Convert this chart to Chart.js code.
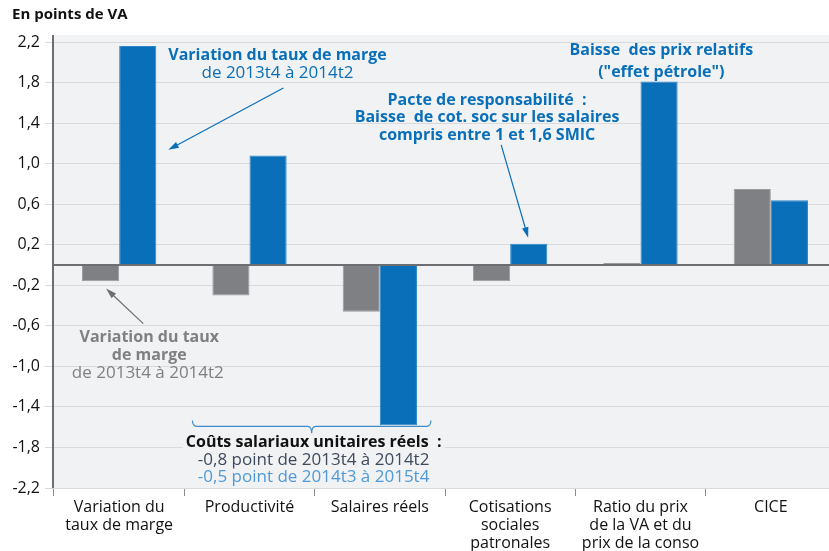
<!DOCTYPE html>
<html>
<head>
<meta charset="utf-8">
<script src="https://cdn.jsdelivr.net/npm/chart.js@4.4.1/dist/chart.umd.min.js"></script>
<style>
  html, body { margin: 0; padding: 0; background: #fff; overflow: hidden; }
  #wrap { width: 836px; height: 551px; position: relative; }
</style>
</head>
<body>
<div id="wrap"><canvas id="graf" width="836" height="551"></canvas></div>
<script>
// données (en points de VA)
var categories = [
    ['Variation du', 'taux de marge'],
    'Productivité',
    'Salaires réels',
    ['Cotisations', 'sociales', 'patronales'],
    ['Ratio du prix', 'de la VA et du', 'prix de la conso'],
    'CICE'
];
var serieGris = [-0.16, -0.30, -0.46, -0.16, 0.02, 0.75];
var serieBleu = [2.16, 1.08, -1.58, 0.21, 1.81, 0.64];
var yMin = -2.2, yMax = 2.2, yPas = 0.4;

var BLEU = '#0a6fb9';
var GRIS = '#7f8083';
var FOND = '#f1f2f4';
var POLICE = '"Open Sans", sans-serif';

// textes et flèches d'annotation, placés en coordonnées de données (catégorie, valeur)
var annotations = {
    draw: function (chart) {
        var c = chart.ctx, x = chart.scales.x, y = chart.scales.y;
        var largeur = (x.right - x.left) / categories.length;
        function px(u) { return x.getPixelForValue(0) + u * largeur; }
        function py(v) { return y.getPixelForValue(v); }

        function texte(str, u, v, font, color, bg) {
            c.font = font;
            c.textAlign = 'center';
            c.textBaseline = 'middle';
            if (bg) {
                var w = c.measureText(str).width;
                c.fillStyle = FOND;
                c.fillRect(px(u) - w / 2 - 3, py(v) - 9, w + 6, 18);
            }
            c.fillStyle = color;
            c.fillText(str, px(u), py(v));
        }
        function fleche(u1, v1, u2, v2, color) {
            var x1 = px(u1), y1 = py(v1), x2 = px(u2), y2 = py(v2);
            var a = Math.atan2(y2 - y1, x2 - x1);
            c.strokeStyle = color; c.fillStyle = color; c.lineWidth = 1.2;
            c.beginPath(); c.moveTo(x1, y1); c.lineTo(x2 - 6 * Math.cos(a), y2 - 6 * Math.sin(a)); c.stroke();
            c.beginPath();
            c.moveTo(x2, y2);
            c.lineTo(x2 - 11 * Math.cos(a - 0.3), y2 - 11 * Math.sin(a - 0.3));
            c.lineTo(x2 - 11 * Math.cos(a + 0.3), y2 - 11 * Math.sin(a + 0.3));
            c.closePath(); c.fill();
        }

        c.save();
        var gras = 'bold 16px ' + POLICE, normal = '17px ' + POLICE;

        texte('Variation du taux de marge', 1.215, 2.07, gras, BLEU);
        texte('de 2013t4 à 2014t2', 1.215, 1.895, normal, BLEU);
        fleche(1.26, 1.747, 0.377, 1.136, BLEU);

        texte('Baisse  des prix relatifs', 4.16, 2.115, gras, BLEU);
        texte('("effet pétrole")', 4.16, 1.898, gras, BLEU);

        texte('Pacte de responsabilité  :', 2.823, 1.628, gras, BLEU);
        texte('Baisse  de cot. soc sur les salaires', 2.823, 1.451, gras, BLEU);
        texte('compris entre 1 et 1,6 SMIC', 2.823, 1.274, gras, BLEU);
        fleche(2.931, 1.185, 3.138, 0.269, BLEU);

        texte('Variation du taux', 0.231, -0.716, gras, GRIS);
        texte('de marge', 0.231, -0.894, gras, GRIS);
        texte('de 2013t4 à 2014t2', 0.22, -1.071, normal, GRIS);
        fleche(0.185, -0.578, -0.10, -0.233, '#6d6e71');

        // accolade sous salaires
        var xl = px(0.562), xr = px(2.392), xm = px(1.477);
        var yb = py(-1.593), yh = py(-1.534), yd = py(-1.662);
        c.strokeStyle = '#3d8ccc'; c.lineWidth = 1.2;
        c.beginPath();
        c.moveTo(xl, yh); c.quadraticCurveTo(xl, yb, xl + 5, yb);
        c.lineTo(xm - 4, yb); c.quadraticCurveTo(xm, yb, xm, yd);
        c.quadraticCurveTo(xm, yb, xm + 4, yb);
        c.lineTo(xr - 5, yb); c.quadraticCurveTo(xr, yb, xr, yh);
        c.stroke();

        texte('Coûts salariaux unitaires réels  :', 1.492, -1.751, gras, '#111', true);
        texte('-0,8 point de 2013t4 à 2014t2', 1.492, -1.928, normal, '#3e4a5c', true);
        texte('-0,5 point de 2014t3 à 2015t4', 1.492, -2.096, normal, '#4f9ad6', true);
        c.restore();
    }
};

var decor = {
    id: 'decor',
    beforeDraw: function (chart) {
        var c = chart.ctx, a = chart.chartArea;
        c.save();
        c.fillStyle = FOND;
        c.fillRect(a.left, a.top - 7, a.right - a.left, a.bottom - a.top + 7);
        c.fillStyle = '#111';
        c.font = 'bold 15px ' + POLICE;
        c.textAlign = 'left'; c.textBaseline = 'middle';
        c.fillText('En points de VA', 12, 15);
        c.restore();
    },
    afterDatasetsDraw: function (chart) {
        var c = chart.ctx, a = chart.chartArea, y = chart.scales.y;
        var y0 = y.getPixelForValue(0);
        c.save();
        c.strokeStyle = '#6d6e71'; c.lineWidth = 2;
        c.beginPath(); c.moveTo(a.left, y0); c.lineTo(a.right, y0); c.stroke();
        c.beginPath(); c.moveTo(a.left - 1, a.top - 7); c.lineTo(a.left - 1, a.bottom); c.stroke();
        c.restore();
        annotations.draw(chart);
    }
};

new Chart(document.getElementById('graf').getContext('2d'), {
    type: 'bar',
    data: {
        labels: categories,
        datasets: [{
            data: serieGris,
            backgroundColor: GRIS,
            borderColor: '#9a9b9e',
            borderWidth: 1
        }, {
            data: serieBleu,
            backgroundColor: BLEU,
            borderColor: '#2f86c8',
            borderWidth: 1
        }]
    },
    options: {
        responsive: false,
        animation: false,
        devicePixelRatio: 1,
        categoryPercentage: 0.57,
        barPercentage: 1.0,
        layout: { padding: { top: 42, right: 0, left: 0, bottom: 0 } },
        plugins: { legend: { display: false }, tooltip: { enabled: false } },
        scales: {
            x: {
                afterFit: function (s) { s.height = 63; },
                grid: { offset: true, drawOnChartArea: false, color: '#8a8b8e', tickLength: 8 },
                border: { display: false },
                ticks: { color: '#111', font: { family: POLICE, size: 16, lineHeight: 1.1 }, maxRotation: 0, padding: 3 }
            },
            y: {
                min: yMin,
                max: yMax,
                afterFit: function (s) { s.width = 54; },
                grid: { color: '#d9dadc', tickLength: 9, lineWidth: 1 },
                border: { display: false },
                ticks: {
                    stepSize: yPas,
                    color: '#111',
                    padding: 5,
                    font: { family: POLICE, size: 16 },
                    callback: function (v) { return (Math.round(v * 10) / 10).toFixed(1).replace('.', ','); }
                }
            }
        }
    },
    plugins: [decor]
});
</script>
</body>
</html>
